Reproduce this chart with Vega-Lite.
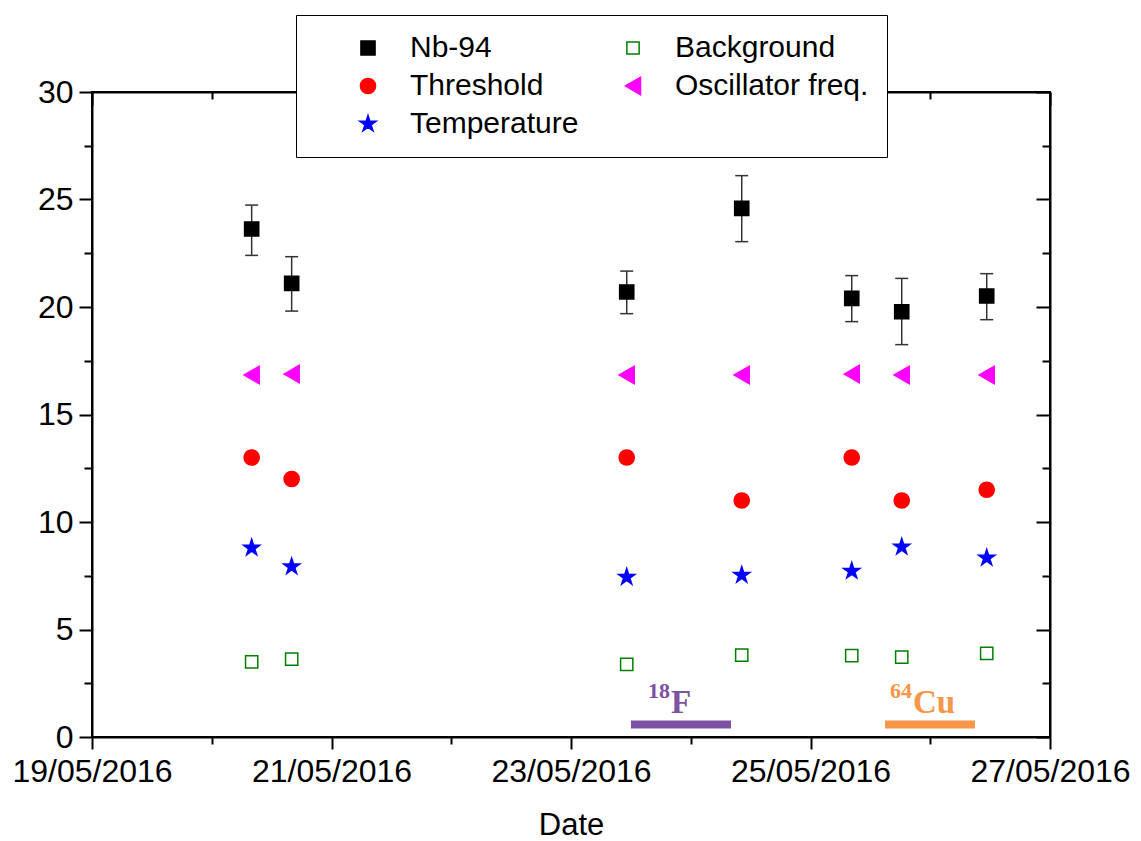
{
  "$schema": "https://vega.github.io/schema/vega-lite/v6.json",
  "width": 958,
  "height": 645,
  "autosize": "none",
  "padding": {"left": 92, "top": 92, "right": 91, "bottom": 104},
  "background": "white",
  "config": {
    "font": "Liberation Sans",
    "view": {"stroke": "black", "strokeWidth": 2},
    "axis": {
      "domainColor": "black", "domainWidth": 2, "tickColor": "black", "tickWidth": 2,
      "labelColor": "black", "labelFont": "Liberation Sans", "labelFontSize": 32,
      "titleFont": "Liberation Sans", "titleFontSize": 31, "titleFontWeight": "normal", "titleColor": "black",
      "grid": false
    },
    "legend": {
      "orient": "none", "legendX": 204, "legendY": -77, "columns": 2,
      "strokeColor": "black", "fillColor": "white", "padding": 18,
      "labelFont": "Liberation Sans", "labelFontSize": 30, "labelColor": "black", "labelLimit": 400,
      "symbolOffset": 39, "labelOffset": 27, "rowPadding": 8, "columnPadding": 0,
      "symbolStrokeWidth": 1.5
    }
  },
  "datasets": {
    "series": [
      {"date": "2016-05-20T08:00:00", "series": "Nb-94", "value": 23.63},
      {"date": "2016-05-20T16:01:00", "series": "Nb-94", "value": 21.1},
      {"date": "2016-05-23T11:10:00", "series": "Nb-94", "value": 20.7},
      {"date": "2016-05-24T10:13:00", "series": "Nb-94", "value": 24.59},
      {"date": "2016-05-25T08:16:00", "series": "Nb-94", "value": 20.4},
      {"date": "2016-05-25T18:17:00", "series": "Nb-94", "value": 19.78},
      {"date": "2016-05-26T11:19:00", "series": "Nb-94", "value": 20.51},
      {"date": "2016-05-20T08:00:00", "series": "Background", "value": 3.49},
      {"date": "2016-05-20T16:01:00", "series": "Background", "value": 3.62},
      {"date": "2016-05-23T11:10:00", "series": "Background", "value": 3.38},
      {"date": "2016-05-24T10:13:00", "series": "Background", "value": 3.81},
      {"date": "2016-05-25T08:16:00", "series": "Background", "value": 3.78},
      {"date": "2016-05-25T18:17:00", "series": "Background", "value": 3.71},
      {"date": "2016-05-26T11:19:00", "series": "Background", "value": 3.89},
      {"date": "2016-05-20T08:00:00", "series": "Threshold", "value": 13.0},
      {"date": "2016-05-20T16:01:00", "series": "Threshold", "value": 12.0},
      {"date": "2016-05-23T11:10:00", "series": "Threshold", "value": 13.0},
      {"date": "2016-05-24T10:13:00", "series": "Threshold", "value": 11.0},
      {"date": "2016-05-25T08:16:00", "series": "Threshold", "value": 13.0},
      {"date": "2016-05-25T18:17:00", "series": "Threshold", "value": 11.0},
      {"date": "2016-05-26T11:19:00", "series": "Threshold", "value": 11.5},
      {"date": "2016-05-20T08:00:00", "series": "Oscillator freq.", "value": 16.84},
      {"date": "2016-05-20T16:01:00", "series": "Oscillator freq.", "value": 16.88},
      {"date": "2016-05-23T11:10:00", "series": "Oscillator freq.", "value": 16.84},
      {"date": "2016-05-24T10:13:00", "series": "Oscillator freq.", "value": 16.84},
      {"date": "2016-05-25T08:16:00", "series": "Oscillator freq.", "value": 16.88},
      {"date": "2016-05-25T18:17:00", "series": "Oscillator freq.", "value": 16.84},
      {"date": "2016-05-26T11:19:00", "series": "Oscillator freq.", "value": 16.84},
      {"date": "2016-05-20T08:00:00", "series": "Temperature", "value": 8.8},
      {"date": "2016-05-20T16:01:00", "series": "Temperature", "value": 7.92},
      {"date": "2016-05-23T11:10:00", "series": "Temperature", "value": 7.44},
      {"date": "2016-05-24T10:13:00", "series": "Temperature", "value": 7.53},
      {"date": "2016-05-25T08:16:00", "series": "Temperature", "value": 7.72},
      {"date": "2016-05-25T18:17:00", "series": "Temperature", "value": 8.84},
      {"date": "2016-05-26T11:19:00", "series": "Temperature", "value": 8.33}
    ],
    "nbErr": [
      {"date": "2016-05-20T08:00:00", "lo": 22.4, "hi": 24.74},
      {"date": "2016-05-20T16:01:00", "lo": 19.81, "hi": 22.34},
      {"date": "2016-05-23T11:10:00", "lo": 19.69, "hi": 21.67},
      {"date": "2016-05-24T10:13:00", "lo": 23.04, "hi": 26.11},
      {"date": "2016-05-25T08:16:00", "lo": 19.32, "hi": 21.46},
      {"date": "2016-05-25T18:17:00", "lo": 18.25, "hi": 21.33},
      {"date": "2016-05-26T11:19:00", "lo": 19.41, "hi": 21.55}
    ],
    "bgErr": [
      {"date": "2016-05-20T08:00:00", "lo": 3.27, "hi": 3.71},
      {"date": "2016-05-20T16:01:00", "lo": 3.4, "hi": 3.84},
      {"date": "2016-05-23T11:10:00", "lo": 3.16, "hi": 3.6},
      {"date": "2016-05-24T10:13:00", "lo": 3.59, "hi": 4.03},
      {"date": "2016-05-25T08:16:00", "lo": 3.56, "hi": 4.0},
      {"date": "2016-05-26T11:19:00", "lo": 3.67, "hi": 4.11}
    ],
    "bars": [
      {"isotope": "18F", "start": "2016-05-23T12:01:00", "end": "2016-05-24T08:04:00", "level": 0.58},
      {"isotope": "64Cu", "start": "2016-05-25T14:56:00", "end": "2016-05-26T08:58:00", "level": 0.58}
    ],
    "labels": [
      {"isotope": "18F", "date": "2016-05-23T20:02:00", "level": 1.12, "mass": "18", "element": "F"},
      {"isotope": "64Cu", "date": "2016-05-25T20:33:00", "level": 1.12, "mass": "64", "element": "Cu"}
    ]
  },
  "layer": [
    {
      "data": {"name": "nbErr"},
      "mark": {"type": "rule", "color": "#333333", "strokeWidth": 1.5},
      "encoding": {
        "x": {
          "field": "date", "type": "temporal",
          "scale": {"domain": [{"year": 2016, "month": 5, "date": 19}, {"year": 2016, "month": 5, "date": 27}]},
          "axis": {
            "orient": "bottom", "title": "Date", "format": "%d/%m/%Y",
            "values": [
              {"year": 2016, "month": 5, "date": 19}, {"year": 2016, "month": 5, "date": 20},
              {"year": 2016, "month": 5, "date": 21}, {"year": 2016, "month": 5, "date": 22},
              {"year": 2016, "month": 5, "date": 23}, {"year": 2016, "month": 5, "date": 24},
              {"year": 2016, "month": 5, "date": 25}, {"year": 2016, "month": 5, "date": 26},
              {"year": 2016, "month": 5, "date": 27}
            ],
            "labelExpr": "date(datum.value) % 2 === 1 ? datum.label : ''",
            "tickSize": {"condition": {"test": "date(datum.value) % 2 === 1", "value": 12}, "value": 7},
            "labelPadding": 7, "labelFlush": false, "labelOverlap": false, "titlePadding": 23
          }
        },
        "y": {
          "field": "lo", "type": "quantitative",
          "scale": {"domain": [0, 30], "nice": false, "zero": false},
          "axis": {
            "orient": "left", "title": null,
            "values": [0, 2.5, 5, 7.5, 10, 12.5, 15, 17.5, 20, 22.5, 25, 27.5, 30],
            "labelExpr": "datum.value % 5 === 0 ? datum.label : ''",
            "tickSize": {"condition": {"test": "datum.value % 5 === 0", "value": 13}, "value": 8},
            "labelPadding": 6, "labelFlush": false, "labelOverlap": false
          }
        },
        "y2": {"field": "hi"}
      }
    },
    {
      "data": {"name": "nbErr"},
      "mark": {"type": "tick", "orient": "horizontal", "size": 13, "thickness": 1.5, "color": "#333333", "opacity": 1},
      "encoding": {
        "x": {"field": "date", "type": "temporal", "axis": null},
        "y": {"field": "lo", "type": "quantitative", "axis": null}
      }
    },
    {
      "data": {"name": "nbErr"},
      "mark": {"type": "tick", "orient": "horizontal", "size": 13, "thickness": 1.5, "color": "#333333", "opacity": 1},
      "encoding": {
        "x": {"field": "date", "type": "temporal", "axis": null},
        "y": {"field": "hi", "type": "quantitative", "axis": null}
      }
    },
    {
      "data": {"name": "bgErr"},
      "mark": {"type": "rule", "color": "#2e9a2e", "strokeWidth": 1, "opacity": 0.8},
      "encoding": {
        "x": {"field": "date", "type": "temporal", "axis": null},
        "y": {"field": "lo", "type": "quantitative", "axis": null},
        "y2": {"field": "hi"}
      }
    },
    {
      "data": {"name": "bgErr"},
      "mark": {"type": "tick", "orient": "horizontal", "size": 12, "thickness": 1, "color": "#2e9a2e", "opacity": 0.8},
      "encoding": {
        "x": {"field": "date", "type": "temporal", "axis": null},
        "y": {"field": "lo", "type": "quantitative", "axis": null}
      }
    },
    {
      "data": {"name": "bgErr"},
      "mark": {"type": "tick", "orient": "horizontal", "size": 12, "thickness": 1, "color": "#2e9a2e", "opacity": 0.8},
      "encoding": {
        "x": {"field": "date", "type": "temporal", "axis": null},
        "y": {"field": "hi", "type": "quantitative", "axis": null}
      }
    },
    {
      "data": {"name": "series"},
      "mark": {"type": "point", "filled": false, "strokeWidth": 1.5, "opacity": 1},
      "encoding": {
        "x": {"field": "date", "type": "temporal", "axis": null},
        "y": {"field": "value", "type": "quantitative", "axis": null},
        "shape": {
          "field": "series", "type": "nominal", "title": null,
          "scale": {
            "domain": ["Nb-94", "Threshold", "Temperature", "Background", "Oscillator freq."],
            "range": ["square", "circle", "M0,-1L0.2245,-0.309L0.951,-0.309L0.363,0.118L0.588,0.809L0,0.382L-0.588,0.809L-0.363,0.118L-0.951,-0.309L-0.2245,-0.309Z", "square", "triangle-left"]
          }
        },
        "fill": {
          "field": "series", "type": "nominal", "title": null,
          "scale": {
            "domain": ["Nb-94", "Threshold", "Temperature", "Background", "Oscillator freq."],
            "range": ["#000000", "#ff0000", "#0000ff", "#ffffff", "#ff00ff"]
          }
        },
        "stroke": {
          "field": "series", "type": "nominal", "title": null,
          "scale": {
            "domain": ["Nb-94", "Threshold", "Temperature", "Background", "Oscillator freq."],
            "range": ["#000000", "#ff0000", "#0000ff", "#008000", "#ff00ff"]
          }
        },
        "size": {
          "field": "series", "type": "nominal", "title": null,
          "scale": {
            "type": "ordinal",
            "domain": ["Nb-94", "Threshold", "Temperature", "Background", "Oscillator freq."],
            "range": [200, 230, 290, 150, 300]
          }
        }
      }
    },
    {
      "data": {"name": "bars"},
      "mark": {"type": "rule", "strokeWidth": 8, "strokeCap": "butt"},
      "encoding": {
        "x": {
          "field": "start", "type": "temporal",
          "axis": {
            "orient": "top", "title": null, "labels": false,
            "values": [
              {"year": 2016, "month": 5, "date": 19}, {"year": 2016, "month": 5, "date": 20},
              {"year": 2016, "month": 5, "date": 21}, {"year": 2016, "month": 5, "date": 22},
              {"year": 2016, "month": 5, "date": 23}, {"year": 2016, "month": 5, "date": 24},
              {"year": 2016, "month": 5, "date": 25}, {"year": 2016, "month": 5, "date": 26},
              {"year": 2016, "month": 5, "date": 27}
            ],
            "tickSize": {"condition": {"test": "date(datum.value) % 2 === 1", "value": -13}, "value": -7}
          }
        },
        "x2": {"field": "end"},
        "y": {
          "field": "level", "type": "quantitative",
          "axis": {
            "orient": "right", "title": null, "labels": false,
            "values": [0, 2.5, 5, 7.5, 10, 12.5, 15, 17.5, 20, 22.5, 25, 27.5, 30],
            "tickSize": {"condition": {"test": "datum.value % 5 === 0", "value": -14}, "value": -8}
          }
        },
        "color": {
          "field": "isotope", "type": "nominal", "legend": null,
          "scale": {"domain": ["18F", "64Cu"], "range": ["#7d52a3", "#f79646"]}
        }
      }
    },
    {
      "data": {"name": "labels"},
      "mark": {"type": "text", "font": "Liberation Serif", "fontWeight": "bold", "fontSize": 33, "align": "left", "baseline": "alphabetic"},
      "encoding": {
        "x": {"field": "date", "type": "temporal", "axis": null},
        "y": {"field": "level", "type": "quantitative", "axis": null},
        "text": {"field": "element"},
        "color": {"field": "isotope", "type": "nominal", "legend": null}
      }
    },
    {
      "data": {"name": "labels"},
      "mark": {"type": "text", "font": "Liberation Serif", "fontWeight": "bold", "fontSize": 22, "align": "right", "baseline": "alphabetic", "dx": -1, "dy": -15},
      "encoding": {
        "x": {"field": "date", "type": "temporal", "axis": null},
        "y": {"field": "level", "type": "quantitative", "axis": null},
        "text": {"field": "mass"},
        "color": {"field": "isotope", "type": "nominal", "legend": null}
      }
    }
  ],
  "resolve": {"axis": {"x": "independent", "y": "independent"}}
}
